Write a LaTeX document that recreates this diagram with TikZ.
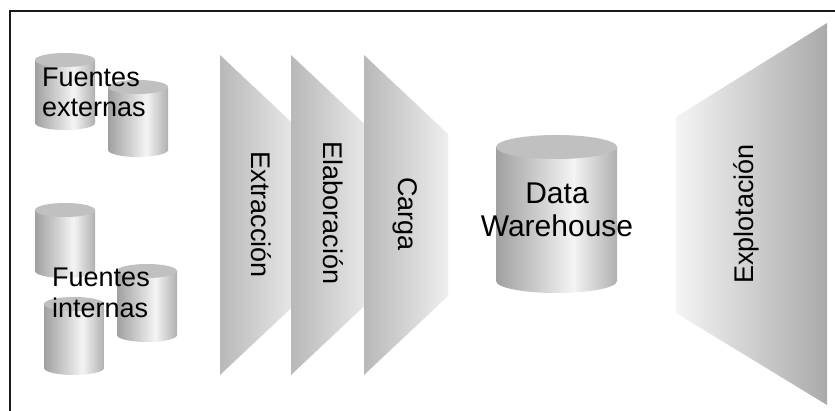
\documentclass[tikz,border=0pt]{standalone}
\usepackage{fontspec}
\setmainfont{Liberation Sans}
\definecolor{cylL}{RGB}{160,160,160}
\definecolor{cylM}{RGB}{244,244,244}
\definecolor{cylR}{RGB}{176,176,176}
\definecolor{capgray}{RGB}{192,192,192}
\definecolor{trapL}{RGB}{184,184,184}
\definecolor{trapR}{RGB}{238,238,238}
\definecolor{expL}{RGB}{244,244,244}
\definecolor{expR}{RGB}{170,170,170}
\pgfdeclarehorizontalshading{cylshade}{100bp}{color(0bp)=(cylL); color(25bp)=(cylL); color(57bp)=(cylM); color(75bp)=(cylR); color(100bp)=(cylR)}
\newcommand{\dbcyl}[5]{%
  \path[shading=cylshade] (#1-#2,#3+#5) -- (#1-#2,#4-#5)
    arc[start angle=180,end angle=360,x radius=#2pt,y radius=#5pt]
    -- (#1+#2,#3+#5) -- cycle;
  \fill[capgray] (#1,#3+#5) ellipse[x radius=#2pt,y radius=#5pt];
}
\tikzset{
  lbl/.style={inner sep=0pt, text=black},
  srcfont/.style={font=\fontsize{27}{31}\selectfont},
  vfont/.style={font=\fontsize{27}{32}\selectfont},
  dwfont/.style={font=\fontsize{30}{34}\selectfont},
  trap/.style={left color=trapL, right color=trapR, draw=none},
}
\begin{document}
\begin{tikzpicture}[x=1pt,y=-1pt]
\useasboundingbox (0,0) rectangle (835,411);
\fill[white] (0,0) rectangle (835,411);
% frame
\draw[line width=1.6pt, black!90] (835,11) -- (10,11) -- (10,411);

% source cylinders
\dbcyl{65}{30}{53}{130}{7}
\dbcyl{138}{30}{80}{157}{7}
\dbcyl{65}{30}{203}{278}{7}
\dbcyl{147}{30}{264}{342}{7}
\dbcyl{74}{30}{297}{375}{7}

\node[lbl, srcfont, anchor=base west] (ext1) at (42,87) {Fuentes};
\node[lbl, srcfont, anchor=base west] (ext2) at (42,117) {externas};
\node[lbl, srcfont, anchor=base west] (int1) at (52,287) {Fuentes};
\node[lbl, srcfont, anchor=base west] (int2) at (52,318) {internas};

% process trapezoids
\path[trap] (220,55) -- (304,134) -- (304,296) -- (220,375) -- cycle;
\path[trap] (291,55) -- (375,134) -- (375,296) -- (291,375) -- cycle;
\path[trap] (364,55) -- (448,134) -- (448,296) -- (364,375) -- cycle;
\node[lbl, vfont, rotate=-90] (extr) at (261,215) {Extracción};
\node[lbl, vfont, rotate=-90] (elab) at (333,213) {Elaboración};
\node[lbl, vfont, rotate=-90] (carga) at (405,214) {Carga};

% data warehouse
\dbcyl{556.5}{60.5}{135}{293}{12}
\node[lbl, dwfont, anchor=base] (dw1) at (557,204) {Data};
\node[lbl, dwfont, anchor=base] (dw2) at (557,237) {Warehouse};

% explotacion
\path[left color=expL, right color=expR] (676,117) -- (827,23) -- (827,405) -- (676,313) -- cycle;
\node[lbl, vfont, rotate=90] (expl) at (746,214) {Explotación};
\end{tikzpicture}
\end{document}
